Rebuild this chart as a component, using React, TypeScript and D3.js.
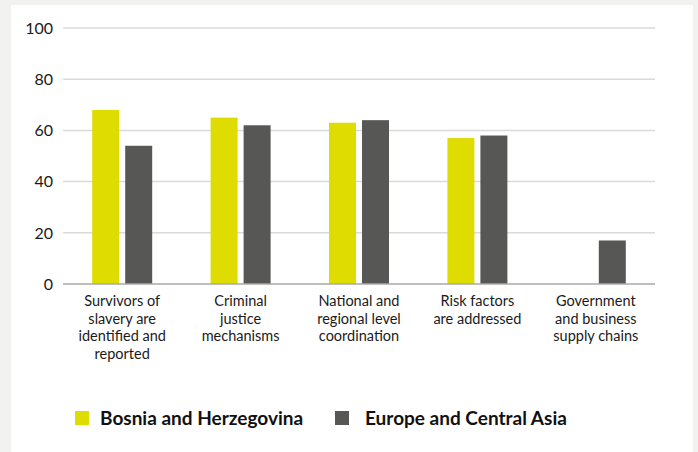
import React from 'react';
import * as d3 from 'd3';

const categories = [
  ['Survivors of', 'slavery are', 'identified and', 'reported'],
  ['Criminal', 'justice', 'mechanisms'],
  ['National and', 'regional level', 'coordination'],
  ['Risk factors', 'are addressed'],
  ['Government', 'and business', 'supply chains'],
];
const bosnia = [68, 65, 63, 57, 0];
const europe = [54, 62, 64, 58, 17];
const yTicks = [0, 20, 40, 60, 80, 100];
const seriesNames = ['Bosnia and Herzegovina', 'Europe and Central Asia'];
const colors = ['#dedc00', '#575756'];

const W = 698;
const H = 452;
const margin = { top: 28, right: 43, bottom: 168, left: 63 };
const FONT = 'Lato, "Source Sans Pro", sans-serif';

export default function App() {
  const innerH = H - margin.top - margin.bottom;
  const x = d3
    .scaleBand<number>()
    .domain(d3.range(categories.length))
    .range([margin.left, W - margin.right]);
  const y = d3.scaleLinear().domain([0, 100]).range([margin.top + innerH, margin.top]);
  const barW = 27;
  const gap = 6;
  // legend swatch / text positions
  const legendPos = [
    { sx: 75, tx: 100 },
    { sx: 335, tx: 365 },
  ];

  return (
    <svg width={W} height={H} style={{ position: 'absolute', left: 0, top: 0, fontFamily: FONT }}>
      <rect x={0} y={0} width={W} height={H} fill="#f2f2f0" />
      <rect x={11} y={5} width={682} height={H - 5} fill="#ffffff" />

      {/* gridlines + y labels */}
      {yTicks.map((t) => (
        <g key={t}>
          {t > 0 && (
            <line
              x1={margin.left}
              x2={W - margin.right}
              y1={y(t)}
              y2={y(t)}
              stroke="#dadada"
              strokeWidth={1.5}
            />
          )}
          <text x={53} y={y(t)} dy="0.36em" textAnchor="end" fontSize={16} fill="#1a1a1a">
            {t}
          </text>
        </g>
      ))}

      {/* bars */}
      {categories.map((_, i) => {
        const cx = (x(i) as number) + x.bandwidth() / 2;
        return (
          <g key={i}>
            {[bosnia[i], europe[i]].map((v, s) => (
              <rect
                key={s}
                x={s === 0 ? cx - gap / 2 - barW : cx + gap / 2}
                y={y(v)}
                width={barW}
                height={y(0) - y(v)}
                fill={colors[s]}
              />
            ))}
          </g>
        );
      })}

      {/* baseline */}
      <line
        x1={margin.left}
        x2={W - margin.right}
        y1={y(0)}
        y2={y(0)}
        stroke="#a8a8a8"
        strokeWidth={1.5}
      />

      {/* category labels */}
      {categories.map((lines, i) => {
        const cx = (x(i) as number) + x.bandwidth() / 2;
        return (
          <text key={i} x={cx} y={306} textAnchor="middle" fontSize={14.5} fill="#1a1a1a">
            {lines.map((l, j) => (
              <tspan key={j} x={cx} dy={j === 0 ? 0 : 17.7}>
                {l}
              </tspan>
            ))}
          </text>
        );
      })}

      {/* legend */}
      {seriesNames.map((n, s) => (
        <g key={n}>
          <rect x={legendPos[s].sx} y={411} width={14} height={14} fill={colors[s]} />
          <text x={legendPos[s].tx} y={425} fontSize={19} fontWeight="bold" fill="#111">
            {n}
          </text>
        </g>
      ))}
    </svg>
  );
}
